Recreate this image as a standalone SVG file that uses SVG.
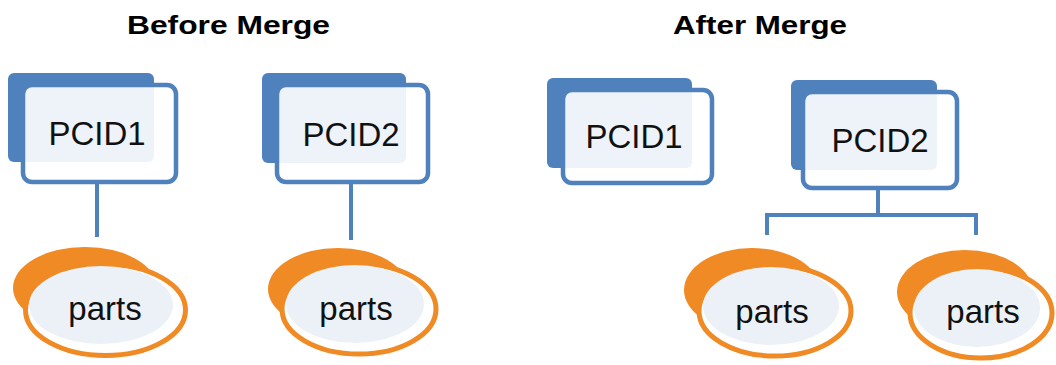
<svg xmlns="http://www.w3.org/2000/svg" width="1056" height="365" viewBox="0 0 1056 365">
<style>
.title{font-family:"Liberation Sans",Arial,sans-serif;font-weight:bold;font-size:26px;fill:#000}
.lbl{font-family:"Liberation Sans",Arial,sans-serif;font-size:33px;fill:#111;text-anchor:middle}
.back{fill:#4F81BD}
.front{fill:#fff;fill-opacity:0.9;stroke:#4F81BD;stroke-width:4.5}
.oback{fill:#F08A24}
.ofront{fill:#fff;stroke:#F08A24;stroke-width:5}
.oin{fill:#ECF1F8}
.conn{stroke:#4F81BD;stroke-width:4;fill:none}
</style>
<rect width="1056" height="365" fill="#fff"/>
<text class="title" x="127" y="34" textLength="203" lengthAdjust="spacingAndGlyphs">Before Merge</text>
<text class="title" x="673" y="34" textLength="174" lengthAdjust="spacingAndGlyphs">After Merge</text>
<g id="connectors">
<line class="conn" x1="97" y1="184" x2="97" y2="237"/>
<line class="conn" x1="351" y1="184" x2="351" y2="240"/>
<line class="conn" x1="878" y1="190" x2="878" y2="215"/>
<polyline class="conn" points="767,235 767,215 976,215 976,235"/>
</g>
<g id="pcid1-before">
<rect class="back" x="8" y="73" width="146" height="89" rx="6"/>
<rect class="front" x="23" y="85" width="153" height="97" rx="9"/>
<text class="lbl" x="97" y="145">PCID1</text>
</g>
<g id="pcid2-before">
<rect class="back" x="262" y="73" width="144" height="90" rx="6"/>
<rect class="front" x="277" y="85" width="151" height="97" rx="9"/>
<text class="lbl" x="351" y="146">PCID2</text>
</g>
<g id="pcid1-after">
<rect class="back" x="547" y="78" width="145" height="90" rx="6"/>
<rect class="front" x="563" y="90" width="149" height="93" rx="9"/>
<text class="lbl" x="634" y="148">PCID1</text>
</g>
<g id="pcid2-after">
<rect class="back" x="791" y="80" width="146" height="90" rx="6"/>
<rect class="front" x="803" y="92" width="154" height="96" rx="9"/>
<text class="lbl" x="880" y="152">PCID2</text>
</g>
<g id="parts1-before">
<ellipse class="oback" cx="85" cy="288" rx="72" ry="41"/>
<ellipse class="ofront" cx="105.5" cy="310" rx="80" ry="45.5"/>
<ellipse class="oin" cx="101" cy="305" rx="72" ry="39"/>
<text class="lbl" x="105" y="320">parts</text>
</g>
<g id="parts2-before">
<ellipse class="oback" cx="338" cy="289" rx="70" ry="41"/>
<ellipse class="ofront" cx="359" cy="309" rx="77" ry="45"/>
<ellipse class="oin" cx="355" cy="304" rx="69" ry="39"/>
<text class="lbl" x="356" y="320">parts</text>
</g>
<g id="parts1-after">
<ellipse class="oback" cx="752" cy="290" rx="68" ry="42"/>
<ellipse class="ofront" cx="775" cy="311" rx="76" ry="45"/>
<ellipse class="oin" cx="771" cy="306" rx="68" ry="39"/>
<text class="lbl" x="772" y="323">parts</text>
</g>
<g id="parts2-after">
<ellipse class="oback" cx="965" cy="292" rx="68" ry="42"/>
<ellipse class="ofront" cx="981" cy="313" rx="71" ry="45"/>
<ellipse class="oin" cx="977" cy="308" rx="63" ry="39"/>
<text class="lbl" x="983" y="323">parts</text>
</g>
</svg>
